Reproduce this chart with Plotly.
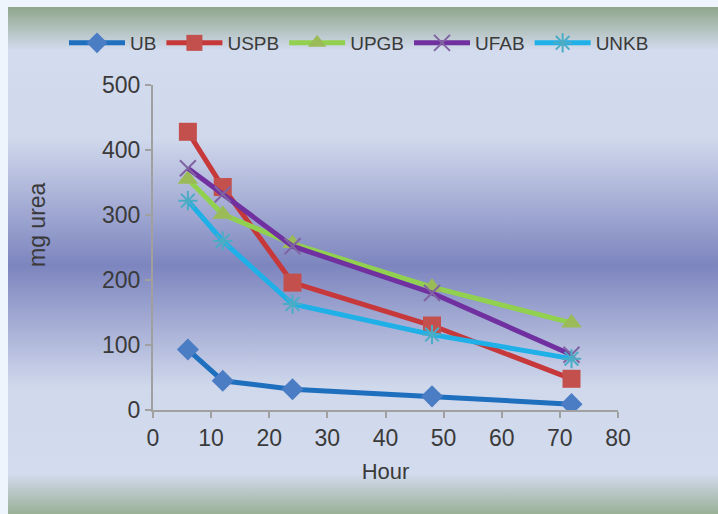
import base64
import plotly.graph_objects as go

# Urea remaining over time for each formulation
hours = [6, 12, 24, 48, 72]
ub = [93, 45, 32, 21, 9]
uspb = [428, 343, 196, 130, 48]
upgb = [355, 301, 256, 189, 134]
ufab = [372, 332, 252, 180, 85]
unkb = [322, 260, 163, 116, 79]

series = [
    ("UB", ub, "#1F6FBF", "#4A7DC4", "diamond", 17, 0),
    ("USPB", uspb, "#C6383A", "#C4504D", "square", 18, 0),
    ("UPGB", upgb, "#92D050", "#9BBB59", "triangle-up", 18, 0),
    ("UFAB", ufab, "#7030A0", "#8064A2", "x-thin-open", 16, 2),
    ("UNKB", unkb, "#1FB0E8", "#4BACC6", "asterisk-open", 16, 2),
]

fig = go.Figure()
for name, vals, lc, mc, sym, size, mlw in series:
    fig.add_trace(go.Scatter(
        x=hours, y=vals, name=name, mode="lines+markers",
        line=dict(color=lc, width=5),
        marker=dict(symbol=sym, size=size, color=mc,
                    line=dict(color=mc, width=mlw)),
    ))

# vertical banded background gradient
svg = (
    '<svg xmlns="http://www.w3.org/2000/svg" width="100" height="507" preserveAspectRatio="none">'
    '<defs><linearGradient id="g" x1="0" y1="0" x2="0" y2="1">'
    '<stop offset="0" stop-color="#8FA68B"/>'
    '<stop offset="0.085" stop-color="#D3DBEE"/>'
    '<stop offset="0.26" stop-color="#D0D8EC"/>'
    '<stop offset="0.51" stop-color="#7D85BF"/>'
    '<stop offset="0.75" stop-color="#D0D8EC"/>'
    '<stop offset="0.92" stop-color="#D3DBEE"/>'
    '<stop offset="1" stop-color="#9AB097"/>'
    '</linearGradient></defs>'
    '<rect width="100" height="507" fill="url(#g)"/></svg>'
)
src = "data:image/svg+xml;base64," + base64.b64encode(svg.encode()).decode()

L, R, T, B = 153, 618, 85, 410
W, H = 718, 514
pw, ph = R - L, B - T
fig.add_layout_image(dict(
    source=src, xref="paper", yref="paper",
    x=(8 - L) / pw, y=(B - 7) / ph,
    sizex=(W - 8) / pw, sizey=(H - 7) / ph,
    xanchor="left", yanchor="top", sizing="stretch", layer="below",
))

font_txt = "Liberation Sans, Arial, sans-serif"
txt_color = "#3A3A3A"
axis_common = dict(
    showline=True, linecolor="#A0A0A0", linewidth=2,
    ticks="outside", ticklen=6, tickwidth=2, tickcolor="#A0A0A0",
    showgrid=False, zeroline=False,
    tickfont=dict(family=font_txt, size=23, color=txt_color),
)

# y-axis title placed as a rotated annotation
fig.add_annotation(
    text="mg urea", textangle=-90, showarrow=False,
    xref="paper", yref="paper",
    x=(37 - L) / pw, y=(B - 225) / ph,
    xanchor="center", yanchor="middle",
    font=dict(family=font_txt, size=23, color=txt_color),
)

fig.update_layout(
    width=W, height=H,
    margin=dict(l=L, r=W - R, t=T, b=H - B),
    paper_bgcolor="#EEF5FC",
    plot_bgcolor="#D0D0D0",
    showlegend=True,
    legend=dict(
        orientation="h", x=(64 - L) / pw, xanchor="left",
        y=(B - 43) / ph, yanchor="middle",
        font=dict(family=font_txt, size=19, color=txt_color),
        itemwidth=56, bgcolor="rgba(0,0,0,0)", itemclick=False,
    ),
    xaxis=dict(range=[0, 80], dtick=10, tick0=0,
               title=dict(text="Hour", standoff=14,
                          font=dict(family=font_txt, size=22, color=txt_color)),
               **axis_common),
    yaxis=dict(range=[0, 500], dtick=100, tick0=0, **axis_common),
)

fig.write_html("out.html")
